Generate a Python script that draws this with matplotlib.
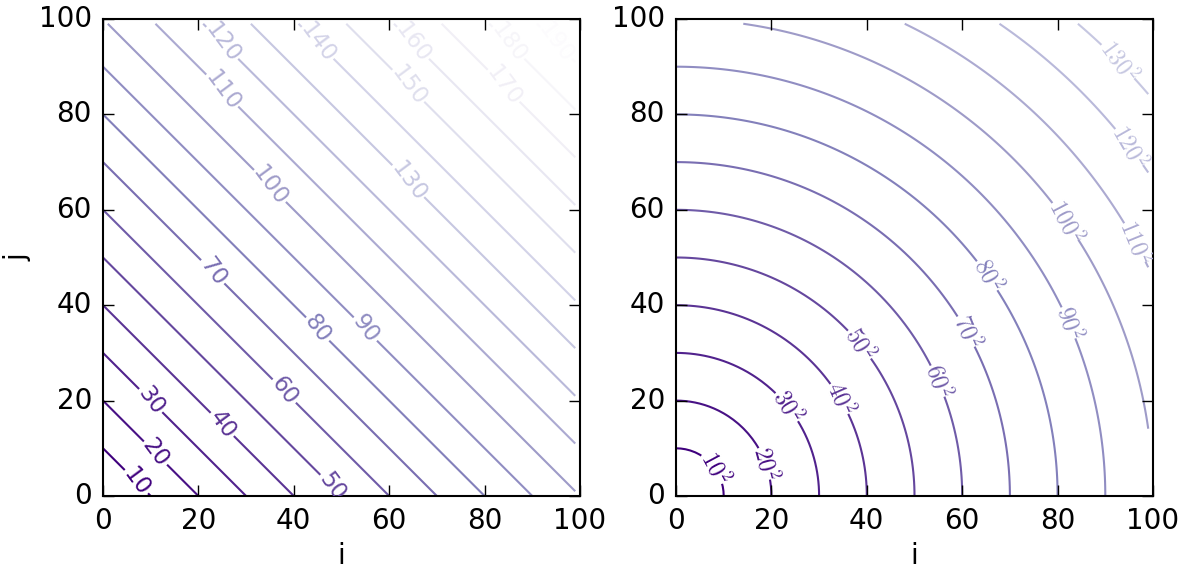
import numpy as np
import matplotlib
matplotlib.use("Agg")
import matplotlib.pyplot as plt

# contour levels
sum_levels = [10, 20, 30, 40, 50, 60, 70, 80, 90, 100, 110, 120, 130, 140, 150, 160, 170, 180, 190]
radius_levels = [10, 20, 30, 40, 50, 60, 70, 80, 90, 100, 110, 120, 130]
ticks = [0, 20, 40, 60, 80, 100]

# where the labels sit (i, j)
sum_label_pos = [(7, 3), (11, 9), (10, 20), (25, 15), (48, 2), (38, 22), (23, 47),
                 (45, 35), (55, 35), (35, 65), (25, 85), (25, 95), (64, 66), (45, 95),
                 (64, 86), (65, 95), (84, 86), (85, 95), (95, 95)]
radius_label_pos = [(8.2, 5.8), (18.8, 6.8), (23.4, 18.7), (34.4, 20.4), (38.6, 31.8),
                    (54.9, 24.1), (60.9, 34.5), (65.3, 46.2), (82.3, 36.3), (81.7, 57.6),
                    (96.3, 53.2), (95.1, 73.2), (92.7, 91.1)]

plt.style.use('classic')
plt.rcParams['mathtext.fontset'] = 'cm'

i = np.arange(100)
j = np.arange(100)
I, J = np.meshgrid(i, j)

fig = plt.figure(figsize=(11.86, 5.72), dpi=100)
fig.patch.set_facecolor('white')
W, H = 1186.0, 572.0
pos1 = [103 / W, 76 / H, 477 / W, 477 / H]
pos2 = [676 / W, 76 / H, 477 / W, 477 / H]
# labels were laid out on a taller box in the original, then squeezed
stretch = 1.35
ax1 = fig.add_axes([pos1[0], pos1[1], pos1[2], pos1[3] * stretch])
ax2 = fig.add_axes([pos2[0], pos2[1], pos2[2], pos2[3] * stretch])

for ax in (ax1, ax2):
    ax.set_xlim(0, 100)
    ax.set_ylim(0, 100)

cs1 = ax1.contour(I, J, I + J, levels=sum_levels, cmap='Purples_r',
                  vmin=10, vmax=190, linewidths=1.5)
ax1.clabel(cs1, fmt='%d', fontsize=16.5, inline=True, manual=sum_label_pos)

cs2 = ax2.contour(I, J, np.sqrt(I ** 2 + J ** 2), levels=radius_levels, cmap='Purples_r',
                  vmin=10, vmax=190, linewidths=1.5)
ax2.clabel(cs2, fmt=lambda v: r'$%d^2$' % v, fontsize=17, inline=True, manual=radius_label_pos)

ax1.set_position(pos1)
ax2.set_position(pos2)

for ax in (ax1, ax2):
    ax.set_xlim(0, 100)
    ax.set_ylim(0, 100)
    ax.set_xticks(ticks)
    ax.set_yticks(ticks)
    ax.tick_params(labelsize=20, length=8, width=1, direction='in', pad=8)
    ax.set_xlabel('i', fontsize=20)
    for s in ax.spines.values():
        s.set_linewidth(1.5)
ax1.set_ylabel('j', fontsize=20)

plt.savefig('out.png', dpi=100, facecolor='white')
